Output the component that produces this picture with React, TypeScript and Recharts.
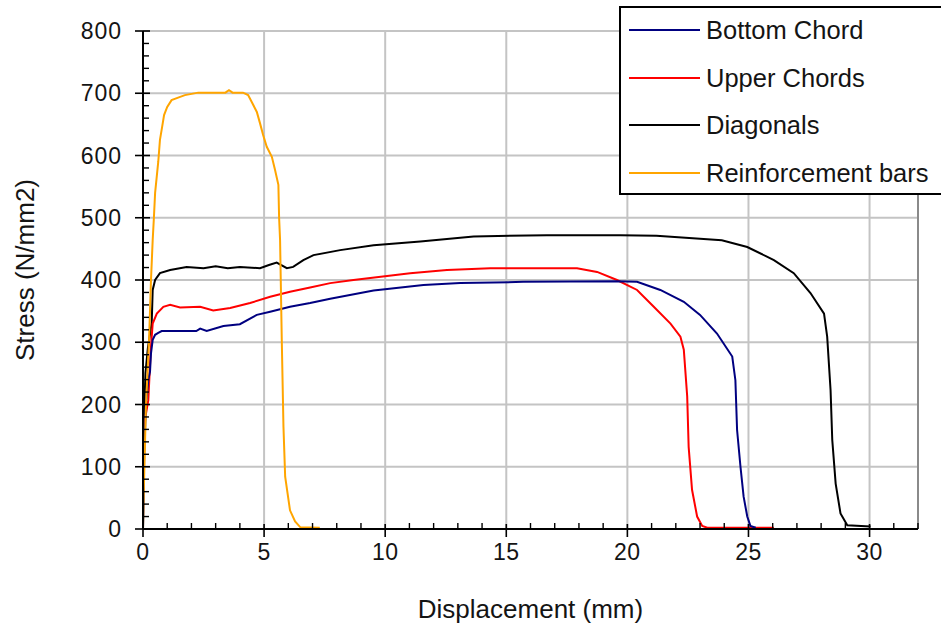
import React from 'react';
import { LineChart, Line, XAxis, YAxis, CartesianGrid, ReferenceLine, Legend, Label } from 'recharts';

const bottomChord: [number, number][] = [
  [0, 0], [0.05, 120], [0.12, 200], [0.22, 240], [0.29, 253], [0.33, 282], [0.4, 304], [0.5, 312],
  [0.63, 315], [0.77, 318], [2.2, 318], [2.36, 322], [2.63, 318], [3.32, 326], [4.0, 329], [4.7, 344],
  [5.25, 349], [6.07, 357], [6.9, 363], [7.73, 370], [9.52, 383], [11.58, 392], [13.1, 395], [15.7, 397],
  [19.57, 398], [20.4, 397], [21.36, 384], [22.33, 365], [23.0, 344], [23.7, 314], [24.33, 277],
  [24.46, 239], [24.53, 159], [24.67, 100], [24.8, 52], [24.95, 20], [25.08, 5], [25.3, 2],
];

const upperChords: [number, number][] = [
  [0, 0], [0.01, 143], [0.1, 180], [0.22, 207], [0.32, 288], [0.4, 330], [0.57, 346], [0.84, 357],
  [1.12, 360], [1.53, 356], [2.36, 357], [2.9, 351], [3.6, 355], [4.42, 363], [5.25, 373], [6.07, 381],
  [6.9, 388], [7.73, 395], [8.69, 400], [11.03, 411], [12.55, 416], [14.34, 419], [17.92, 419],
  [18.75, 413], [19.57, 400], [20.4, 384], [21.09, 357], [21.78, 330], [22.19, 309], [22.33, 288],
  [22.47, 213], [22.53, 132], [22.67, 63], [22.88, 20], [23.09, 5], [23.3, 2], [26.05, 2],
];

const diagonals: [number, number][] = [
  [0, 0], [0.02, 80], [0.04, 150], [0.06, 200], [0.1, 250], [0.2, 290], [0.36, 331], [0.4, 384],
  [0.5, 400], [0.7, 411], [1.12, 416], [1.8, 421], [2.5, 419], [3.0, 422], [3.5, 419], [4.0, 421],
  [4.83, 419], [5.2, 424], [5.52, 428], [5.94, 419], [6.2, 421], [6.62, 432], [7.04, 440], [8.14, 448],
  [9.52, 456], [11.45, 462], [13.65, 470], [16.68, 472], [19.71, 472], [21.2, 471], [23.9, 464],
  [24.95, 453], [26.05, 432], [26.87, 411], [27.56, 379], [28.12, 346], [28.25, 309], [28.39, 223],
  [28.46, 143], [28.6, 73], [28.8, 25], [29.08, 6], [30.04, 4],
];

const reinforcementBars: [number, number][] = [
  [0, 0], [0.02, 42], [0.12, 196], [0.25, 304], [0.33, 400], [0.4, 464], [0.45, 500], [0.5, 540],
  [0.63, 590], [0.7, 625], [0.79, 646], [0.87, 665], [1.0, 678], [1.18, 689], [1.45, 693], [1.73, 697],
  [2.28, 701], [3.4, 701], [3.55, 705], [3.7, 701], [4.13, 701], [4.34, 697], [4.49, 686], [4.7, 670],
  [4.83, 652], [4.96, 633], [5.11, 614], [5.32, 598], [5.45, 577], [5.59, 553], [5.62, 500],
  [5.66, 464], [5.73, 304], [5.8, 164], [5.87, 84], [6.07, 30], [6.28, 12], [6.49, 3], [7.3, 2],
];

const seriesNames = ['Bottom Chord', 'Upper Chords', 'Diagonals', 'Reinforcement bars'];
const seriesColors = ['#000080', '#ff0000', '#000000', '#ffa500'];
const seriesData = [bottomChord, upperChords, diagonals, reinforcementBars];

const xTicks = Array.from({ length: 33 }, (_, i) => i);
const yTicks = Array.from({ length: 41 }, (_, i) => i * 20);
const xMajor = [5, 10, 15, 20, 25, 30];
const yMajor = [100, 200, 300, 400, 500, 600, 700, 800];

const FONT = '"Liberation Sans", Arial, Helvetica, sans-serif';
const TEXT = '#141414';

const toPoints = (arr: [number, number][]) => arr.map(([x, y]) => ({ x, y }));

const XTick = (props: any) => {
  const { x, y, payload } = props;
  const v = payload.value;
  const major = v % 5 === 0;
  return (
    <g>
      {major ? (
        <line x1={x} y1={y - 5} x2={x} y2={y + 8} stroke="#000" strokeWidth={1.6} />
      ) : (
        <line x1={x} y1={y} x2={x} y2={y - 6} stroke="#000" strokeWidth={1.4} />
      )}
      {major && v <= 30 ? (
        <text x={x} y={y + 31} textAnchor="middle" fontFamily={FONT} fontSize={23} fill={TEXT} letterSpacing={0.5}>
          {v}
        </text>
      ) : null}
    </g>
  );
};

const YTick = (props: any) => {
  const { x, y, payload } = props;
  const v = payload.value;
  const major = v % 100 === 0;
  return (
    <g>
      {major ? (
        <line x1={x - 8} y1={y} x2={x + 7} y2={y} stroke="#000" strokeWidth={1.6} />
      ) : (
        <line x1={x} y1={y} x2={x + 6} y2={y} stroke="#000" strokeWidth={1.4} />
      )}
      {major || v === 0 ? (
        <text x={x - 21} y={y + 8} textAnchor="end" fontFamily={FONT} fontSize={23} fill={TEXT} letterSpacing={1}>
          {v}
        </text>
      ) : null}
    </g>
  );
};

const LegendBox = () => (
  <div
    style={{
      width: 340,
      height: 189,
      boxSizing: 'border-box',
      border: '2px solid #000',
      background: '#fff',
      position: 'relative',
    }}
  >
    {seriesNames.map((name, i) => (
      <div
        key={name}
        style={{
          position: 'absolute',
          left: 0,
          top: 22 + i * 47.5 - 18,
          height: 36,
          display: 'flex',
          alignItems: 'center',
          whiteSpace: 'nowrap',
        }}
      >
        <svg width={85} height={4} style={{ display: 'block' }}>
          <line x1={8} y1={2} x2={79} y2={2} stroke={seriesColors[i]} strokeWidth={2} />
        </svg>
        <span style={{ fontFamily: FONT, fontSize: 25.5, color: TEXT, lineHeight: '36px' }}>{name}</span>
      </div>
    ))}
  </div>
);

export default function App() {
  return (
    <div style={{ position: 'absolute', left: 0, top: 0, width: 941, height: 630, overflow: 'hidden', background: '#fff' }}>
      <LineChart width={941} height={630} margin={{ top: 31, right: 23, bottom: 0, left: 0 }}>
        <CartesianGrid
          stroke="#c4c4c4"
          strokeWidth={2}
          horizontalValues={yMajor}
          verticalValues={xMajor}
        />
        <ReferenceLine x={32} stroke="#8a8a8a" strokeWidth={2} />
        <XAxis
          type="number"
          dataKey="x"
          domain={[0, 32]}
          ticks={xTicks}
          interval={0}
          allowDataOverflow
          height={101}
          tickSize={0}
          tickMargin={0}
          tickLine={false}
          axisLine={{ stroke: '#000', strokeWidth: 2 }}
          tick={<XTick />}
        >
          <Label
            content={(p: any) => {
              const vb = p.viewBox;
              return (
                <text x={vb.x + vb.width / 2} y={vb.y + 89} textAnchor="middle" fontFamily={FONT} fontSize={26} fill={TEXT}>
                  Displacement (mm)
                </text>
              );
            }}
          />
        </XAxis>
        <YAxis
          type="number"
          dataKey="y"
          domain={[0, 800]}
          ticks={yTicks}
          interval={0}
          allowDataOverflow
          width={143}
          tickSize={0}
          tickMargin={0}
          tickLine={false}
          axisLine={{ stroke: '#000', strokeWidth: 2 }}
          tick={<YTick />}
        >
          <Label
            content={(p: any) => {
              const vb = p.viewBox;
              const cx = 34;
              const cy = vb.y + vb.height / 2 - 10;
              return (
                <text
                  x={cx}
                  y={cy}
                  transform={`rotate(-90 ${cx} ${cy})`}
                  textAnchor="middle"
                  fontFamily={FONT}
                  fontSize={26}
                  fill={TEXT}
                >
                  Stress (N/mm2)
                </text>
              );
            }}
          />
        </YAxis>
        <Legend
          layout="vertical"
          align="center"
          verticalAlign="middle"
          wrapperStyle={{ top: 6, left: 619, width: 340, height: 189 }}
          content={() => <LegendBox />}
        />
        {[2, 1, 0, 3].map((i) => (
          <Line
            key={seriesNames[i]}
            name={seriesNames[i]}
            data={toPoints(seriesData[i])}
            dataKey="y"
            type="linear"
            stroke={seriesColors[i]}
            strokeWidth={2}
            dot={false}
            activeDot={false}
            isAnimationActive={false}
          />
        ))}
      </LineChart>
    </div>
  );
}
